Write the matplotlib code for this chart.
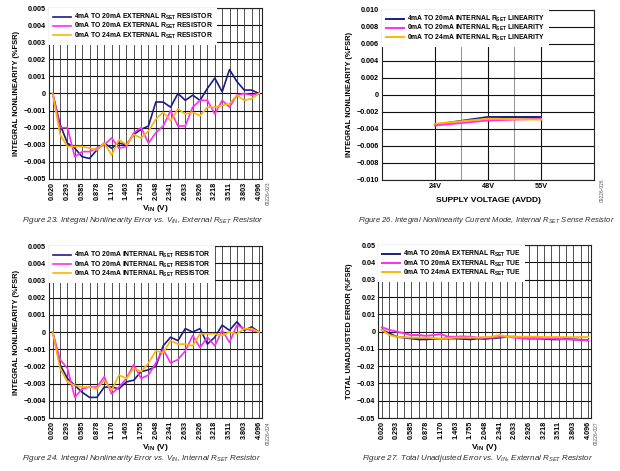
import numpy as np
import matplotlib
matplotlib.use("Agg")
import matplotlib.pyplot as plt

plt.rcParams['font.family'] = ['Liberation Sans', 'DejaVu Sans']
plt.rcParams['mathtext.fontset'] = 'custom'
plt.rcParams['mathtext.bf'] = 'Liberation Sans:bold'
plt.rcParams['mathtext.rm'] = 'Liberation Sans:bold'
plt.rcParams['mathtext.it'] = 'Liberation Sans:italic'
plt.rcParams['mathtext.default'] = 'bf'

BLUE = '#1c1c85'
MAGENTA = '#ff2cf2'
ORANGE = '#ffb400'

vin_labels = ['0.020', '0.293', '0.585', '0.878', '1.170', '1.463', '1.755', '2.048',
              '2.341', '2.633', '2.926', '3.218', '3.511', '3.803', '4.096']

# Figure 23: INL, external RSET (%FSR), 29 codes
ext_4_20 = [0, -0.0018, -0.0029, -0.0032, -0.0037, -0.0038, -0.0033, -0.0029, -0.0032, -0.0029,
            -0.0030, -0.0024, -0.0021, -0.0019, -0.0005, -0.0005, -0.0008, 0.0000, -0.0004, -0.0001,
            -0.0004, 0.0003, 0.0009, 0.0001, 0.0014, 0.0007, 0.0002, 0.0002, 0.0000]
ext_0_20 = [0, -0.0020, -0.0020, -0.0037, -0.0034, -0.0034, -0.0032, -0.0030, -0.0026, -0.0032,
            -0.0031, -0.0023, -0.0020, -0.0029, -0.0023, -0.0019, -0.0010, -0.0019, -0.0019, -0.0008,
            -0.0004, -0.0004, -0.0012, -0.0004, -0.0008, -0.0001, 0.0000, -0.0001, 0.0000]
ext_0_24 = [0, -0.0024, -0.0031, -0.0031, -0.0031, -0.0032, -0.0033, -0.0029, -0.0036, -0.0027,
            -0.0030, -0.0024, -0.0026, -0.0022, -0.0015, -0.0011, -0.0016, -0.0009, -0.0012, -0.0011,
            -0.0013, -0.0008, -0.0008, -0.0007, -0.0006, -0.0001, -0.0004, -0.0003, 0.0000]

# Figure 24: INL, internal RSET
int_4_20 = [0, -0.0019, -0.0027, -0.0031, -0.0035, -0.0038, -0.0038, -0.0032, -0.0032, -0.0033,
            -0.0029, -0.0028, -0.0023, -0.0022, -0.0020, -0.0008, -0.0003, -0.0005, 0.0002, 0.0000,
            0.0002, -0.0007, -0.0003, 0.0004, 0.0001, 0.0006, 0.0001, 0.0003, 0.0000]
int_0_20 = [0, -0.0016, -0.0021, -0.0038, -0.0033, -0.0032, -0.0032, -0.0026, -0.0036, -0.0032,
            -0.0027, -0.0019, -0.0027, -0.0025, -0.0018, -0.0010, -0.0018, -0.0016, -0.0011, -0.0002,
            -0.0009, -0.0003, -0.0008, 0.0001, -0.0006, 0.0004, 0.0002, 0.0001, 0.0000]
int_0_24 = [0, -0.0021, -0.0029, -0.0031, -0.0032, -0.0032, -0.0033, -0.0028, -0.0034, -0.0025,
            -0.0027, -0.0021, -0.0023, -0.0018, -0.0011, -0.0012, -0.0005, -0.0007, -0.0007, -0.0008,
            -0.0001, -0.0001, -0.0001, -0.0002, 0.0000, -0.0001, 0.0002, 0.0002, 0.0000]

# Figure 26: INL vs supply
supply = ['24V', '48V', '55V']
sup_4_20 = [-0.0035, -0.0026, -0.0026]
sup_0_20 = [-0.0036, -0.0030, -0.0028]
sup_0_24 = [-0.0034, -0.0028, -0.0029]

# Figure 27: TUE, external RSET
tue_4_20 = [0.001, -0.001, -0.003, -0.0035, -0.004, -0.0045, -0.0045, -0.0042, -0.0042, -0.004,
            -0.004, -0.0042, -0.0045, -0.004, -0.0042, -0.0038, -0.0035, -0.003, -0.003, -0.0038,
            -0.004, -0.004, -0.0042, -0.0045, -0.0045, -0.0042, -0.0045, -0.0048, -0.005]
tue_0_20 = [0.0025, 0.001, 0.0, -0.001, -0.002, -0.002, -0.0025, -0.002, -0.0015, -0.003,
            -0.003, -0.0028, -0.003, -0.0035, -0.0035, -0.0035, -0.003, -0.003, -0.0035, -0.0038,
            -0.004, -0.004, -0.004, -0.004, -0.0042, -0.0045, -0.0045, -0.005, -0.005]
tue_0_24 = [0.001, -0.002, -0.003, -0.0033, -0.0035, -0.0035, -0.0035, -0.0038, -0.0042, -0.0038,
            -0.0035, -0.0035, -0.0035, -0.0035, -0.0033, -0.003, -0.002, -0.003, -0.003, -0.003,
            -0.003, -0.003, -0.0032, -0.0032, -0.0032, -0.0032, -0.0033, -0.0032, -0.0032]

fig = plt.figure(figsize=(6.2, 4.71), dpi=100)
ax1 = fig.add_axes([0.079, 0.620, 0.3435, 0.363])
ax2 = fig.add_axes([0.616, 0.618, 0.342, 0.361])
ax3 = fig.add_axes([0.079, 0.1125, 0.3435, 0.365])
ax4 = fig.add_axes([0.610, 0.1125, 0.3435, 0.367])

TICK_FS = 5.2
LEG_FS = 4.9
LEG_KW = dict(loc='upper left', fontsize=LEG_FS, frameon=True, fancybox=False,
              edgecolor='none', facecolor='white', framealpha=1, borderaxespad=0,
              handlelength=2.6, labelspacing=-0.15, borderpad=0.6, handletextpad=0.5)


def style(ax):
    ax.tick_params(length=0, labelsize=TICK_FS, pad=2)
    for lab in ax.get_xticklabels() + ax.get_yticklabels():
        lab.set_fontweight('bold')
    for s in ax.spines.values():
        s.set_color('#222222')
        s.set_linewidth(0.8)
    ax.set_axisbelow(True)


def vin_panel(ax, series, names, ylim, ystep, yfmt, ylabel, lw=1.2):
    idx = np.arange(len(series[0]))
    for vals, c, n in zip(series, [BLUE, MAGENTA, ORANGE], names):
        ax.plot(idx, vals, color=c, lw=lw, label=n)
    ax.set_xlim(-0.5, 28.4)
    ax.set_ylim(*ylim)
    ax.set_xticks(np.arange(0, 29, 2))
    ax.set_xticklabels(vin_labels, rotation=90)
    ax.set_xticks(idx, minor=True)
    ax.tick_params(which='minor', length=0)
    yt = np.arange(ylim[0], ylim[1] + ystep / 2, ystep)
    ax.set_yticks(yt)
    ax.set_yticklabels([yfmt(v) for v in yt])
    ax.grid(True, which='both', axis='x', color='#444444', lw=0.65)
    ax.grid(True, which='major', axis='y', color='#111111', lw=0.8)
    ax.set_xlabel(r'V$_{IN}$ (V)', fontsize=6, fontweight='bold', labelpad=2)
    ax.set_ylabel(ylabel, fontsize=5.4, fontweight='bold', labelpad=3)
    leg = ax.legend(**LEG_KW)
    for t in leg.get_texts():
        t.set_fontweight('bold')
    style(ax)


def fmt_inl(v):
    v = round(v, 4)
    return '0' if abs(v) < 1e-9 else f'{v:.3f}'.replace('-', '\u2212')


def fmt_tue(v):
    v = round(v, 3)
    return '0' if abs(v) < 1e-9 else f'{v:.2f}'.replace('-', '\u2212')


vin_panel(ax1, [ext_4_20, ext_0_20, ext_0_24],
          [r'4mA TO 20mA EXTERNAL R$_{SET}$ RESISTOR',
           r'0mA TO 20mA EXTERNAL R$_{SET}$ RESISTOR',
           r'0mA TO 24mA EXTERNAL R$_{SET}$ RESISTOR'],
          (-0.005, 0.005), 0.001, fmt_inl, 'INTEGRAL NONLINEARITY (%FSR)')
vin_panel(ax3, [int_4_20, int_0_20, int_0_24],
          [r'4mA TO 20mA INTERNAL R$_{SET}$ RESISTOR',
           r'0mA TO 20mA INTERNAL R$_{SET}$ RESISTOR',
           r'0mA TO 24mA INTERNAL R$_{SET}$ RESISTOR'],
          (-0.005, 0.005), 0.001, fmt_inl, 'INTEGRAL NONLINEARITY (%FSR)')
vin_panel(ax4, [tue_4_20, tue_0_20, tue_0_24],
          [r'4mA TO 20mA EXTERNAL R$_{SET}$ TUE',
           r'0mA TO 20mA EXTERNAL R$_{SET}$ TUE',
           r'0mA TO 24mA EXTERNAL R$_{SET}$ TUE'],
          (-0.05, 0.05), 0.01, fmt_tue, 'TOTAL UNADJUSTED ERROR (%FSR)', lw=1.4)

# Figure 26 panel
pos = np.arange(len(supply))
for vals, c, n in zip([sup_4_20, sup_0_20, sup_0_24], [BLUE, MAGENTA, ORANGE],
                      [r'4mA TO 20mA INTERNAL R$_{SET}$ LINEARITY',
                       r'0mA TO 20mA INTERNAL R$_{SET}$ LINEARITY',
                       r'0mA TO 24mA INTERNAL R$_{SET}$ LINEARITY']):
    ax2.plot(pos, vals, color=c, lw=1.4, label=n)
ax2.set_xlim(-1, 3)
ax2.set_ylim(-0.010, 0.010)
ax2.set_xticks(pos)
ax2.set_xticklabels(supply)
ax2.set_xticks([0.5, 1.5], minor=True)
ax2.tick_params(which='minor', length=0)
yt2 = np.arange(-0.010, 0.0101, 0.002)
ax2.set_yticks(yt2)
ax2.set_yticklabels([fmt_inl(v) for v in yt2])
ax2.grid(True, which='major', color='#111111', lw=0.8)
ax2.grid(True, which='minor', axis='x', color='#999999', lw=0.8)
ax2.set_xlabel('SUPPLY VOLTAGE (AVDD)', fontsize=6, fontweight='bold', labelpad=5)
ax2.set_ylabel('INTEGRAL NONLINEARITY (%FSR)', fontsize=5.4, fontweight='bold', labelpad=3)
leg2 = ax2.legend(**LEG_KW)
for t in leg2.get_texts():
    t.set_fontweight('bold')
style(ax2)

# captions
cap_kw = dict(fontsize=5.8, style='italic', color='#2a2a3a', ha='left', va='center')
fig.text(22 / 620, 1 - 220 / 471,
         r'Figure 23. Integral Nonlinearity Error vs. $\mathit{V_{IN}}$, External $\mathit{R_{SET}}$ Resistor', **cap_kw)
fig.text(358 / 620, 1 - 220 / 471,
         r'Figure 26. Integral Nonlinearity Current Mode, Internal $\mathit{R_{SET}}$ Sense Resistor',
         **{**cap_kw, 'fontsize': 5.5})
fig.text(22 / 620, 1 - 458 / 471,
         r'Figure 24. Integral Nonlinearity Error vs. $\mathit{V_{IN}}$, Internal $\mathit{R_{SET}}$ Resistor', **cap_kw)
fig.text(362 / 620, 1 - 458 / 471,
         r'Figure 27. Total Unadjusted Error vs. $\mathit{V_{IN}}$, External $\mathit{R_{SET}}$ Resistor', **cap_kw)

# small document codes
code_kw = dict(fontsize=3.5, rotation=90, color='#555555', ha='center', va='center')
fig.text(268 / 620, 1 - 193 / 471, '09226-023', **code_kw)
fig.text(602 / 620, 1 - 190 / 471, '09226-026', **code_kw)
fig.text(268 / 620, 1 - 433 / 471, '09226-024', **code_kw)
fig.text(596 / 620, 1 - 433 / 471, '09226-027', **code_kw)

fig.savefig('out.png', dpi=100)
